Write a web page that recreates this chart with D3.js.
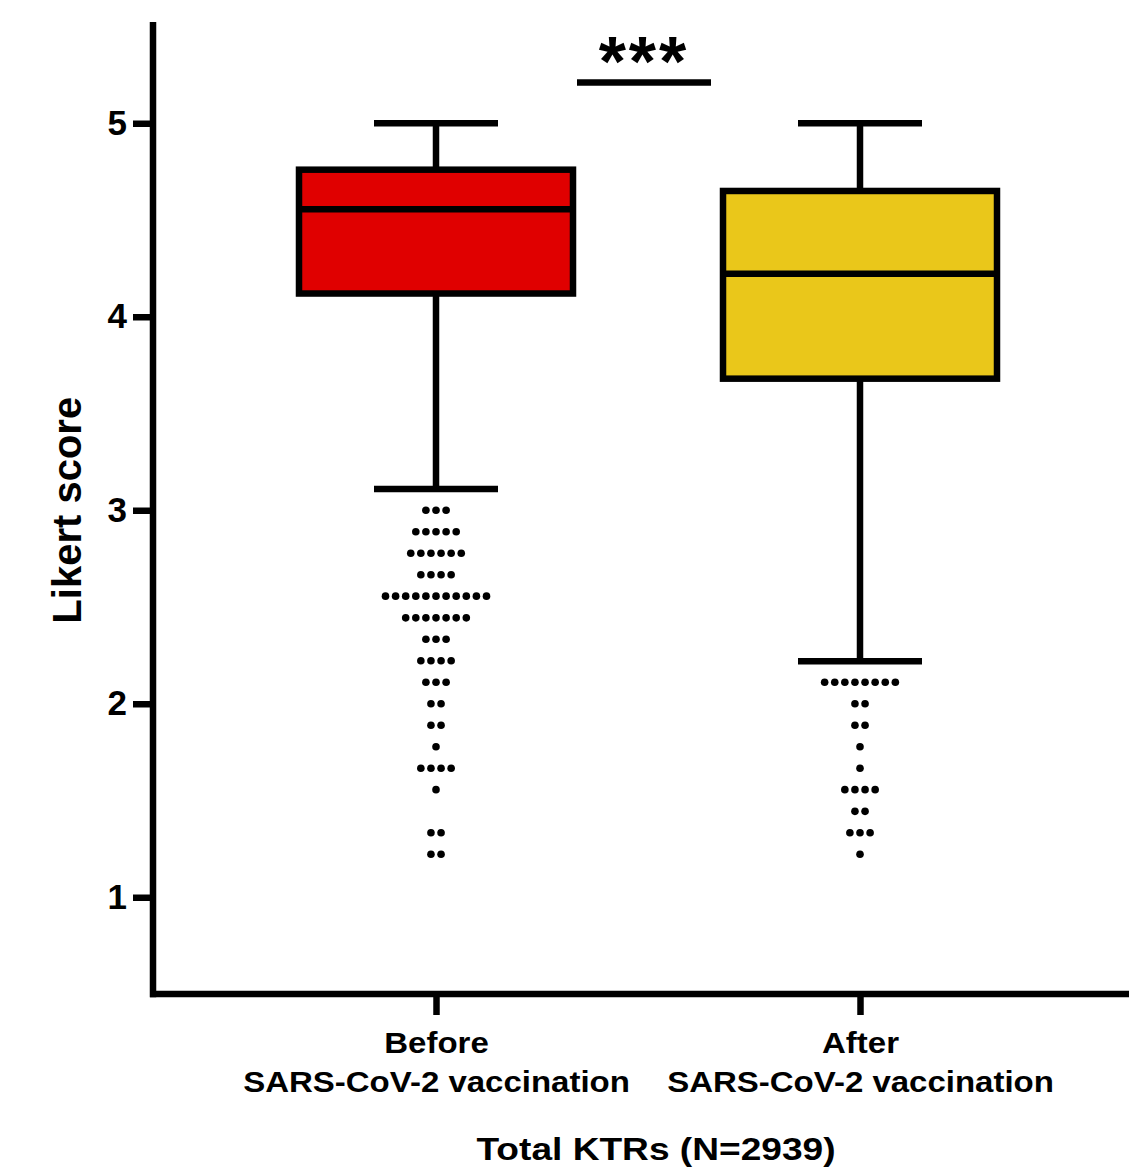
<!DOCTYPE html>
<html>
<head>
<meta charset="utf-8">
<script src="https://cdn.jsdelivr.net/npm/d3@7"></script>
<style>
  body { margin: 0; background: #fff; }
  svg text { font-family: "Liberation Sans", Arial, Helvetica, sans-serif; font-weight: bold; fill: #000; }
</style>
</head>
<body>
<svg id="chart" width="1129" height="1170"></svg>
<script>
// box summary per group
const groups = ["Before", "After"]
const groupSub = ["SARS-CoV-2 vaccination", "SARS-CoV-2 vaccination"]
const boxColors = ["#e00000", "#eac71a"]
const whiskerHigh = [5, 5]
const q3 = [4.76, 4.65]
const median = [4.556, 4.222]
const q1 = [4.12, 3.68]
const whiskerLow = [3.11, 2.22]

// outliers: score level and how many dots sit on that level
const beforeOutlierValues = [3.0, 2.889, 2.778, 2.667, 2.556, 2.444, 2.333, 2.222, 2.111, 2.0, 1.889, 1.778, 1.667, 1.556, 1.333, 1.222]
const beforeOutlierCounts = [3, 5, 6, 4, 11, 7, 3, 4, 3, 2, 2, 1, 4, 1, 2, 2]
const afterOutlierValues = [2.111, 2.0, 1.889, 1.778, 1.667, 1.556, 1.444, 1.333, 1.222]
const afterOutlierCounts = [8, 2, 2, 1, 1, 4, 2, 3, 1]

const yTicks = [1, 2, 3, 4, 5]
const yLabel = "Likert score"
const xTitle = "Total KTRs (N=2939)"
const sigText = "***"
const sigLevel = 5.21

const svg = d3.select("#chart")
const lw = 6.5

const y = d3.scaleLinear().domain([0.5, 5.5]).range([994, 26.5])
const x = d3.scalePoint().domain(groups).range([224, 1072]).padding(0.5)

const boxHalf = 137
const capHalf = 62
const dotGap = 10.1

// axis lines
svg.append("line")
  .attr("x1", 153).attr("x2", 153)
  .attr("y1", 22).attr("y2", y(0.5) + lw / 2)
  .attr("stroke", "#000").attr("stroke-width", lw)
svg.append("line")
  .attr("x1", 150).attr("x2", 1129)
  .attr("y1", y(0.5)).attr("y2", y(0.5))
  .attr("stroke", "#000").attr("stroke-width", lw)

// y axis ticks
const yAxis = svg.append("g")
  .attr("transform", "translate(153,0)")
  .call(d3.axisLeft(y).tickValues(yTicks).tickFormat(d3.format("d"))
    .tickSize(20).tickPadding(6).tickSizeOuter(0))
yAxis.select(".domain").remove()
yAxis.selectAll(".tick line").attr("stroke-width", lw)
yAxis.selectAll(".tick text")
  .attr("font-size", 35)
  .attr("font-family", null)

// x axis ticks
const xAxis = svg.append("g")
  .attr("transform", `translate(0,${y(0.5)})`)
  .call(d3.axisBottom(x).tickSize(21).tickSizeOuter(0))
xAxis.select(".domain").remove()
xAxis.selectAll(".tick line").attr("stroke-width", lw)
xAxis.selectAll(".tick text").remove()
xAxis.selectAll(".tick").each(function(d, i) {
  const t = d3.select(this).append("text")
    .attr("text-anchor", "middle")
    .attr("font-size", 30)
    .attr("font-family", null)
    .attr("transform", "scale(1.1,1)")
  t.append("tspan").attr("x", 0).attr("y", 59).text(d)
  t.append("tspan").attr("x", 0).attr("y", 98).text(groupSub[i])
})

// axis titles
svg.append("text")
  .attr("transform", `translate(81,${y(3)}) rotate(-90)`)
  .attr("text-anchor", "middle")
  .attr("font-size", 40)
  .text(yLabel)

svg.append("text")
  .attr("transform", "translate(656,1160) scale(1.16,1)")
  .attr("text-anchor", "middle")
  .attr("font-size", 32)
  .text(xTitle)

// boxes and whiskers
const boxes = svg.append("g")
groups.forEach((g, i) => {
  const cx = x(g)
  const bx = boxes.append("g")
  bx.append("line")
    .attr("x1", cx).attr("x2", cx)
    .attr("y1", y(whiskerHigh[i])).attr("y2", y(q3[i]))
    .attr("stroke", "#000").attr("stroke-width", lw)
  bx.append("line")
    .attr("x1", cx).attr("x2", cx)
    .attr("y1", y(q1[i])).attr("y2", y(whiskerLow[i]))
    .attr("stroke", "#000").attr("stroke-width", lw)
  for (const v of [whiskerHigh[i], whiskerLow[i]]) {
    bx.append("line")
      .attr("x1", cx - capHalf).attr("x2", cx + capHalf)
      .attr("y1", y(v)).attr("y2", y(v))
      .attr("stroke", "#000").attr("stroke-width", lw)
  }
  bx.append("rect")
    .attr("x", cx - boxHalf).attr("width", boxHalf * 2)
    .attr("y", y(q3[i])).attr("height", y(q1[i]) - y(q3[i]))
    .attr("fill", boxColors[i])
    .attr("stroke", "#000").attr("stroke-width", lw)
  bx.append("line")
    .attr("x1", cx - boxHalf).attr("x2", cx + boxHalf)
    .attr("y1", y(median[i])).attr("y2", y(median[i]))
    .attr("stroke", "#000").attr("stroke-width", lw)
})

// outlier dots, spread sideways per level
const outliers = [
  [beforeOutlierValues, beforeOutlierCounts],
  [afterOutlierValues, afterOutlierCounts]
]
const dots = []
outliers.forEach(([vals, counts], gi) => {
  vals.forEach((v, k) => {
    const n = counts[k]
    for (let j = 0; j < n; j++) {
      dots.push({ group: groups[gi], value: v, off: (j - (n - 1) / 2) * dotGap })
    }
  })
})
svg.append("g").selectAll("circle")
  .data(dots)
  .join("circle")
  .attr("cx", d => x(d.group) + d.off)
  .attr("cy", d => y(d.value))
  .attr("r", 3.8)
  .attr("fill", "#000")

// significance bar
svg.append("line")
  .attr("x1", x(groups[0]) + 141).attr("x2", x(groups[1]) - 149)
  .attr("y1", y(sigLevel)).attr("y2", y(sigLevel))
  .attr("stroke", "#000").attr("stroke-width", lw)
svg.append("text")
  .attr("x", (x(groups[0]) + x(groups[1])) / 2 - 4)
  .attr("y", 86)
  .attr("text-anchor", "middle")
  .attr("font-size", 70)
  .attr("letter-spacing", 3)
  .text(sigText)
</script>
</body>
</html>
